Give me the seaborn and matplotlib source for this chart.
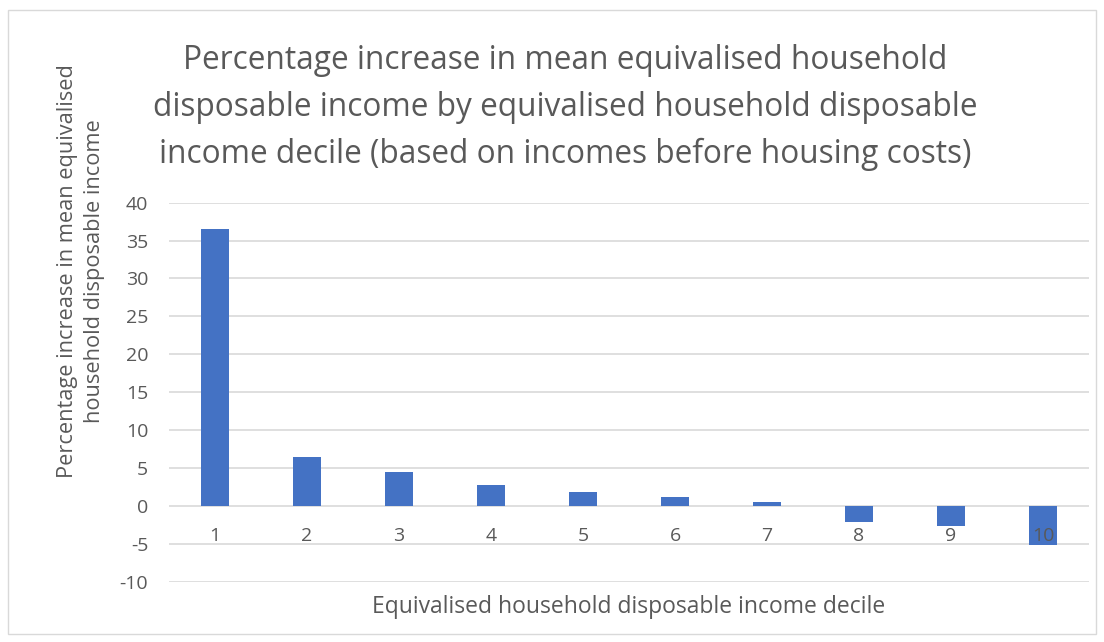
import pandas as pd
import matplotlib.pyplot as plt
import seaborn as sns
from matplotlib.patches import Rectangle

deciles = ["1", "2", "3", "4", "5", "6", "7", "8", "9", "10"]
increase = [36.5, 6.5, 4.5, 2.8, 1.9, 1.2, 0.5, -2.1, -2.6, -5.1]
y_ticks = [-10, -5, 0, 5, 10, 15, 20, 25, 30, 35, 40]

df = pd.DataFrame({"Decile": deciles, "Increase": increase})

sns.set_theme(style="white")
plt.rcParams["font.family"] = ["Open Sans", "DejaVu Sans"]
plt.rcParams["axes.unicode_minus"] = False
grey = "#595959"

fig = plt.figure(figsize=(11.04, 6.42), dpi=100)
ax = fig.add_axes([0.1531, 0.0939, 0.8333, 0.5904])

sns.barplot(data=df, x="Decile", y="Increase", color="#4472c4",
            saturation=1, width=0.31, linewidth=0, ax=ax)

ax.set_ylim(-10, 40)
ax.set_yticks(y_ticks)
ax.grid(axis="y", color="#d9d9d9", linewidth=1.2)
# gridlines behind the bars, decile labels on top of them
ax.yaxis.set_zorder(0.5)
ax.xaxis.set_zorder(3)
for s in ["top", "right", "left"]:
    ax.spines[s].set_visible(False)
ax.spines["bottom"].set_position(("data", 0))
ax.spines["bottom"].set_visible(False)
ax.tick_params(axis="both", length=0, labelsize=14, labelcolor=grey)
ax.tick_params(axis="y", pad=15)
ax.tick_params(axis="x", pad=15)
ax.set_xlabel("")
ax.set_ylabel("")

ax.text(0.5, -0.035, "Equivalised household disposable income decile",
        transform=ax.transAxes, ha="center", va="top", fontsize=16.5, color=grey)
fig.text(0.0734, 0.578, "Percentage increase in mean equivalised\nhousehold disposable income",
         rotation=90, ha="center", va="center", fontsize=15.7, color=grey,
         multialignment="center", linespacing=1.36)
fig.text(0.512, 0.833, "Percentage increase in mean equivalised household\n"
         "disposable income by equivalised household disposable\n"
         "income decile (based on incomes before housing costs)",
         ha="center", va="center", fontsize=22.8, color=grey,
         multialignment="center", linespacing=1.55)

fig.patches.append(Rectangle((8 / 1104, 8 / 642), 1088 / 1104, 624 / 642,
                             transform=fig.transFigure, fill=False,
                             edgecolor="#d9d9d9", linewidth=1))

fig.savefig("out.png", dpi=100)
